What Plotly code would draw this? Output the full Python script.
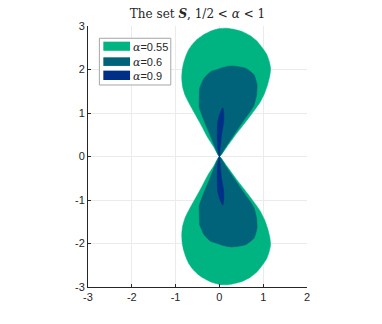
import plotly.graph_objects as go

# upper half boundary of each region (the lower half is its mirror image)
x_055 = [0, 0.17, 0.38, 0.62, 0.79, 0.93, 1.03, 1.10, 1.15, 1.17, 1.14, 1.08, 0.98, 0.86, 0.70, 0.50, 0.30,
         0.15, 0.0, -0.18, -0.36, -0.50, -0.60, -0.70, -0.77, -0.82, -0.85, -0.86, -0.84, -0.78, -0.68,
         -0.57, -0.47, -0.39, -0.27, -0.13, 0]
y_055 = [0, 0.22, 0.51, 0.82, 1.05, 1.25, 1.45, 1.65, 1.85, 2.02, 2.18, 2.35, 2.50, 2.65, 2.78, 2.88, 2.93,
         2.95, 2.94, 2.89, 2.80, 2.70, 2.60, 2.46, 2.30, 2.14, 1.98, 1.80, 1.60, 1.40, 1.20,
         1.00, 0.82, 0.67, 0.44, 0.22, 0]

x_06 = [0, 0.14, 0.34, 0.55, 0.70, 0.79, 0.85, 0.86, 0.79, 0.60, 0.40, 0.26, 0.10, -0.05, -0.20, -0.35,
        -0.45, -0.46, -0.46, -0.35, -0.22, -0.10, 0]
y_06 = [0, 0.21, 0.51, 0.82, 1.03, 1.18, 1.42, 1.65, 1.88, 2.03, 2.07, 2.08, 2.05, 2.00, 1.95, 1.80,
        1.57, 1.34, 1.13, 0.82, 0.51, 0.21, 0]

x_09 = [0, 0.02, 0.05, 0.10, 0.10, 0.08, 0.05, 0.00, -0.04, -0.05, -0.04, 0]
y_09 = [0, 0.20, 0.50, 0.80, 1.00, 1.12, 1.08, 0.95, 0.80, 0.50, 0.20, 0]

alphas = ["0.55", "0.6", "0.9"]
colors = ["#00B482", "#00637A", "#002F87"]
tick_vals_x = [-3, -2, -1, 0, 1, 2]
tick_vals_y = [-3, -2, -1, 0, 1, 2, 3]

fig = go.Figure()
for xs, ys, a, c in zip([x_055, x_06, x_09], [y_055, y_06, y_09], alphas, colors):
    fig.add_trace(go.Scatter(
        x=xs + [None] + xs,
        y=ys + [None] + [-v for v in ys],
        mode="lines", fill="toself", fillcolor=c,
        line=dict(color=c, width=0.5, shape="spline", smoothing=0.5),
        name="α=" + a, showlegend=False, hoverinfo="skip",
    ))

# legend box drawn by hand so the rows are as tight as in the original
fig.add_shape(type="rect", xref="paper", yref="paper", x0=0.052, x1=0.378, y0=0.774, y1=0.953,
              line=dict(color="#a6a6a6", width=1), fillcolor="white", layer="above")
rows = [(0.940, 0.905, 0.9195), (0.880, 0.847, 0.862), (0.829, 0.793, 0.808)]
for (y1, y0, yt), a, c in zip(rows, alphas, colors):
    fig.add_shape(type="rect", xref="paper", yref="paper", x0=0.070, x1=0.192, y0=y0, y1=y1,
                  line=dict(width=0), fillcolor=c, layer="above")
    fig.add_annotation(xref="paper", yref="paper", x=0.197, y=yt, xanchor="left", yanchor="middle",
                       showarrow=False,
                       text=f"<span style='font-family:DejaVu Serif'><i>α</i></span>={a}",
                       font=dict(family="Liberation Sans, Arial", size=11, color="#262626"))

axis_style = dict(
    showgrid=True, gridcolor="#ebebeb", gridwidth=1, zeroline=False,
    showline=True, linecolor="#262626", linewidth=1,
    ticks="inside", ticklen=3, tickcolor="#262626",
    tickfont=dict(family="Liberation Sans, Arial", size=11, color="#262626"),
)

# page body has an 8px margin, so the figure is 8px smaller than the window
fig.update_layout(
    width=374, height=316,
    margin=dict(l=80, r=75, t=18, b=37),
    paper_bgcolor="white", plot_bgcolor="white",
    title=dict(
        text="The set <b><i>S</i></b>, 1/2 &lt; <i>α</i> &lt; 1",
        x=(80 + 299) / 2 / 374, xanchor="center", y=1 - 6 / 316, yanchor="middle",
        font=dict(family="DejaVu Serif, Liberation Serif", size=12, color="#262626"),
    ),
    xaxis=dict(range=[-3, 2], tickvals=tick_vals_x, ticktext=[str(v) for v in tick_vals_x], **axis_style),
    yaxis=dict(range=[-3, 3], tickvals=tick_vals_y, ticktext=[str(v) for v in tick_vals_y], **axis_style),
    showlegend=False,
)

fig.write_html("out.html")
